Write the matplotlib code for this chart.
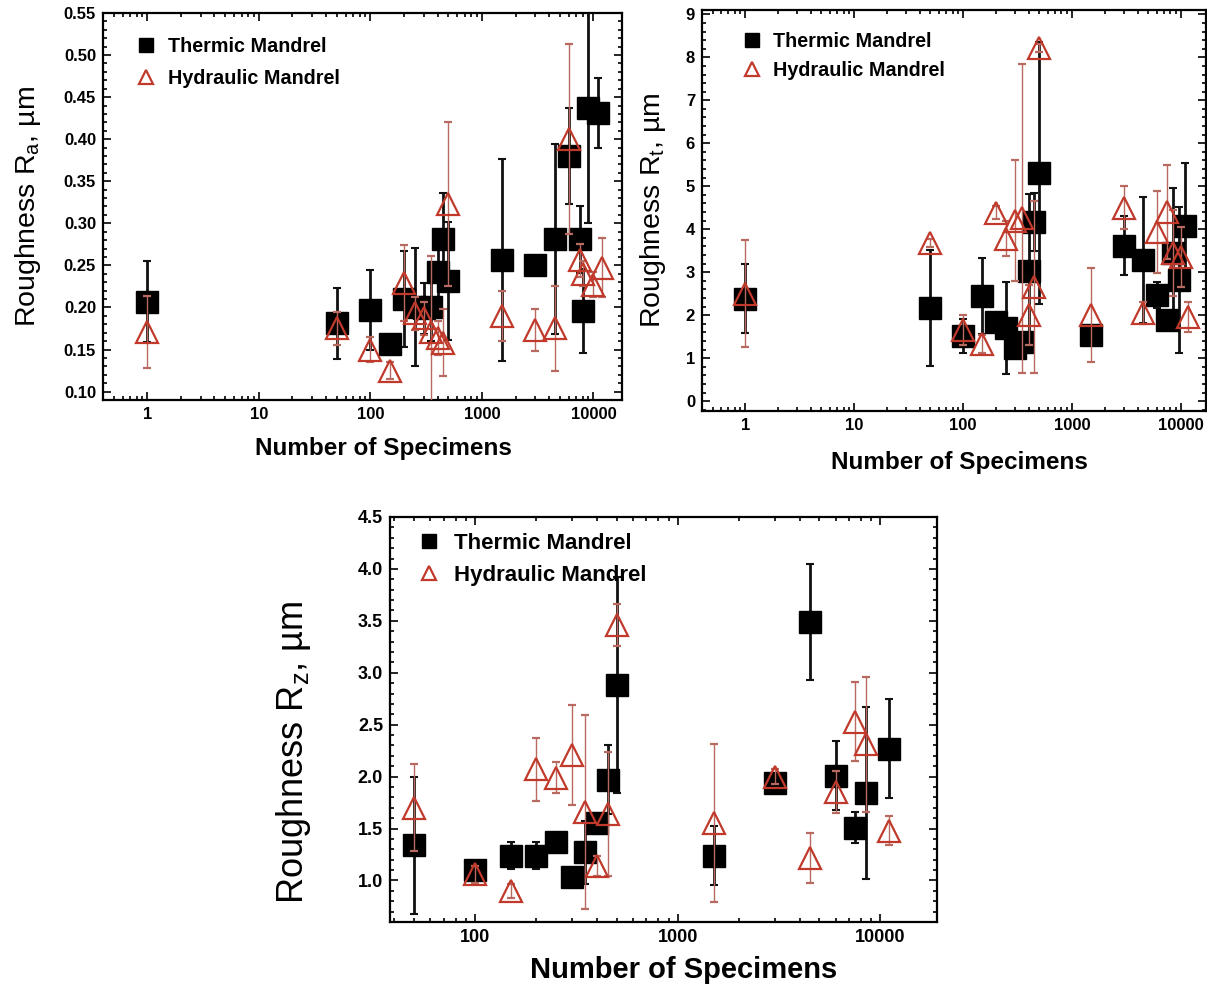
import numpy as np
import matplotlib
matplotlib.use('Agg')
import matplotlib.pyplot as plt
from matplotlib.ticker import AutoMinorLocator, LogLocator, NullFormatter

plt.rcParams['font.family'] = ['Liberation Sans', 'DejaVu Sans']
plt.rcParams['mathtext.fontset'] = 'custom'
plt.rcParams['mathtext.rm'] = 'Liberation Sans'
plt.rcParams['mathtext.it'] = 'Liberation Sans:italic'

# ---- Ra ----
ra_n_th = [1, 50, 100, 150, 200, 250, 300, 350, 400, 450, 500, 1500, 3000, 4500, 6000, 7500, 8000, 9000, 11000]
ra_th = [0.207, 0.181, 0.197, 0.156, 0.210, 0.201, 0.199, 0.200, 0.242, 0.281, 0.231, 0.256, 0.251, 0.281, 0.380, 0.281, 0.196, 0.437, 0.431]
ra_th_err = [0.048, 0.042, 0.048, 0.010, 0.057, 0.070, 0.030, 0.040, 0.030, 0.055, 0.070, 0.120, 0.010, 0.113, 0.057, 0.040, 0.050, 0.137, 0.042]
ra_n_hy = [1, 50, 100, 150, 200, 250, 300, 350, 400, 450, 500, 1500, 3000, 4500, 6000, 7500, 8000, 10000, 12000]
ra_hy = [0.171, 0.175, 0.150, 0.125, 0.229, 0.193, 0.187, 0.171, 0.164, 0.158, 0.323, 0.190, 0.173, 0.175, 0.400, 0.256, 0.240, 0.227, 0.247]
ra_hy_err = [0.043, 0.020, 0.015, 0.010, 0.045, 0.020, 0.020, 0.090, 0.020, 0.040, 0.097, 0.030, 0.025, 0.050, 0.113, 0.020, 0.015, 0.015, 0.035]

# ---- Rt ----
rt_n_th = [1, 50, 100, 150, 200, 250, 300, 350, 400, 450, 500, 1500, 3000, 4500, 6000, 7500, 8500, 9500, 11000]
rt_th = [2.38, 2.17, 1.52, 2.45, 1.84, 1.70, 1.24, 1.38, 3.02, 4.17, 5.31, 1.54, 3.62, 3.29, 2.47, 1.89, 3.45, 2.82, 4.08]
rt_th_err = [0.80, 1.35, 0.40, 0.88, 0.10, 1.07, 0.10, 0.20, 1.80, 0.68, 3.05, 0.10, 0.68, 1.47, 0.30, 0.10, 1.50, 1.70, 1.45]
rt_n_hy = [1, 50, 100, 150, 200, 250, 300, 350, 400, 450, 500, 1500, 3000, 4500, 6000, 7500, 8500, 10000, 11500]
rt_hy = [2.50, 3.68, 1.66, 1.33, 4.38, 3.78, 4.20, 4.25, 2.00, 2.66, 8.22, 2.00, 4.50, 2.05, 3.94, 4.40, 3.45, 3.35, 1.96]
rt_hy_err = [1.25, 0.10, 0.35, 0.20, 0.15, 0.40, 1.40, 3.60, 0.70, 2.00, 0.10, 1.10, 0.50, 0.25, 0.95, 1.10, 1.00, 0.70, 0.35]

# ---- Rz ----
rz_n = [50, 100, 150, 200, 250, 300, 350, 400, 450, 500, 1500, 3000, 4500, 6000, 7500, 8500, 11000]
rz_th = [1.34, 1.10, 1.24, 1.24, 1.37, 1.03, 1.27, 1.55, 1.97, 2.88, 1.24, 1.94, 3.49, 2.01, 1.51, 1.84, 2.27]
rz_th_err = [0.66, 0.08, 0.13, 0.13, 0.05, 0.08, 0.30, 0.10, 0.33, 1.04, 0.28, 0.08, 0.56, 0.33, 0.15, 0.83, 0.48]
rz_hy = [1.70, 1.06, 0.90, 2.07, 1.99, 2.21, 1.66, 1.14, 1.64, 3.46, 1.55, 2.00, 1.22, 1.85, 2.53, 2.31, 1.48]
rz_hy_err = [0.42, 0.08, 0.07, 0.30, 0.15, 0.48, 0.93, 0.10, 0.60, 0.20, 0.76, 0.07, 0.24, 0.20, 0.38, 0.65, 0.14]

red = '#c0392b'
red_err = '#b86a60'


def panel(ax, n_th, th, th_err, n_hy, hy, hy_err, ylabel, ylim, xlim, yticks, ytlabels,
          xticks, fs_tick, fs_xl, fs_yl, fs_leg, leg_anchor, leg_space, xlab_pos, ylab_pos):
    e1 = ax.errorbar(n_th, th, yerr=th_err, fmt='s', color='black', mfc='black', mec='black',
                     ms=16, ecolor='#111111', elinewidth=2.0, capsize=3, capthick=1.5, zorder=3)
    e2 = ax.errorbar(n_hy, hy, yerr=hy_err, fmt='^', color=red, mfc='none', mec=red, mew=1.6,
                     ms=16, ecolor=red_err, elinewidth=1.0, capsize=3, capthick=1.0, zorder=4)
    ax.set_xscale('log')
    ax.set_xlim(xlim)
    ax.set_ylim(ylim)
    ax.set_yticks(yticks)
    ax.set_yticklabels(ytlabels, fontweight='bold')
    ax.set_xticks(xticks)
    ax.set_xticklabels([str(v) for v in xticks], fontweight='bold')
    ax.yaxis.set_minor_locator(AutoMinorLocator(5))
    ax.xaxis.set_minor_locator(LogLocator(base=10, subs=np.arange(2, 10)))
    ax.xaxis.set_minor_formatter(NullFormatter())
    ax.tick_params(which='both', direction='in', top=True, right=True, width=1.2)
    ax.tick_params(which='major', length=6, labelsize=fs_tick, pad=5)
    ax.tick_params(which='minor', length=3)
    for s in ax.spines.values():
        s.set_linewidth(1.6)
    ax.set_xlabel('Number of Specimens', fontsize=fs_xl, fontweight='bold')
    ax.set_ylabel(ylabel, fontsize=fs_yl)
    ax.xaxis.set_label_coords(*xlab_pos)
    ax.yaxis.set_label_coords(*ylab_pos)
    ax.legend([e1[0], e2[0]], ['Thermic Mandrel', 'Hydraulic Mandrel'], loc='upper left',
              bbox_to_anchor=leg_anchor, frameon=False, markerscale=0.65,
              prop={'size': fs_leg, 'weight': 'bold'}, handletextpad=0.6,
              handlelength=1.0, labelspacing=leg_space)


fig = plt.figure(figsize=(12.07, 9.84), dpi=100)

ra_ticks = np.arange(0.10, 0.551, 0.05)
ax1 = fig.add_axes([0.0853, 0.5935, 0.430, 0.3933])
panel(ax1, ra_n_th, ra_th, ra_th_err, ra_n_hy, ra_hy, ra_hy_err,
      'Roughness R$_\\mathrm{a}$, µm', (0.09, 0.55), (0.4, 18000),
      ra_ticks, ['%.2f' % v for v in ra_ticks], [1, 10, 100, 1000, 10000],
      12, 17.5, 20.5, 14.2, (0.03, 0.985), 0.7, (0.54, -0.095), (-0.116, 0.5))

rt_ticks = np.arange(0, 10, 1)
ax2 = fig.add_axes([0.5816, 0.5823, 0.4176, 0.4075])
panel(ax2, rt_n_th, rt_th, rt_th_err, rt_n_hy, rt_hy, rt_hy_err,
      'Roughness R$_\\mathrm{t}$, µm', (-0.23, 9.1), (0.4, 17000),
      rt_ticks, [str(v) for v in rt_ticks], [1, 10, 100, 1000, 10000],
      12, 17.5, 20.5, 14.2, (0.044, 0.99), 0.5, (0.51, -0.10), (-0.068, 0.5))

rz_ticks = np.arange(1.0, 4.51, 0.5)
ax3 = fig.add_axes([0.3231, 0.0630, 0.4532, 0.4116])
panel(ax3, rz_n, rz_th, rz_th_err, rz_n, rz_hy, rz_hy_err,
      'Roughness R$_\\mathrm{z}$, µm', (0.6, 4.5), (38, 19000),
      rz_ticks, ['%.1f' % v for v in rz_ticks], [100, 1000, 10000],
      13, 21, 26, 16, (0.015, 1.01), 0.5, (0.537, -0.085), (-0.141, 0.42))

fig.savefig('out.png', dpi=100)
